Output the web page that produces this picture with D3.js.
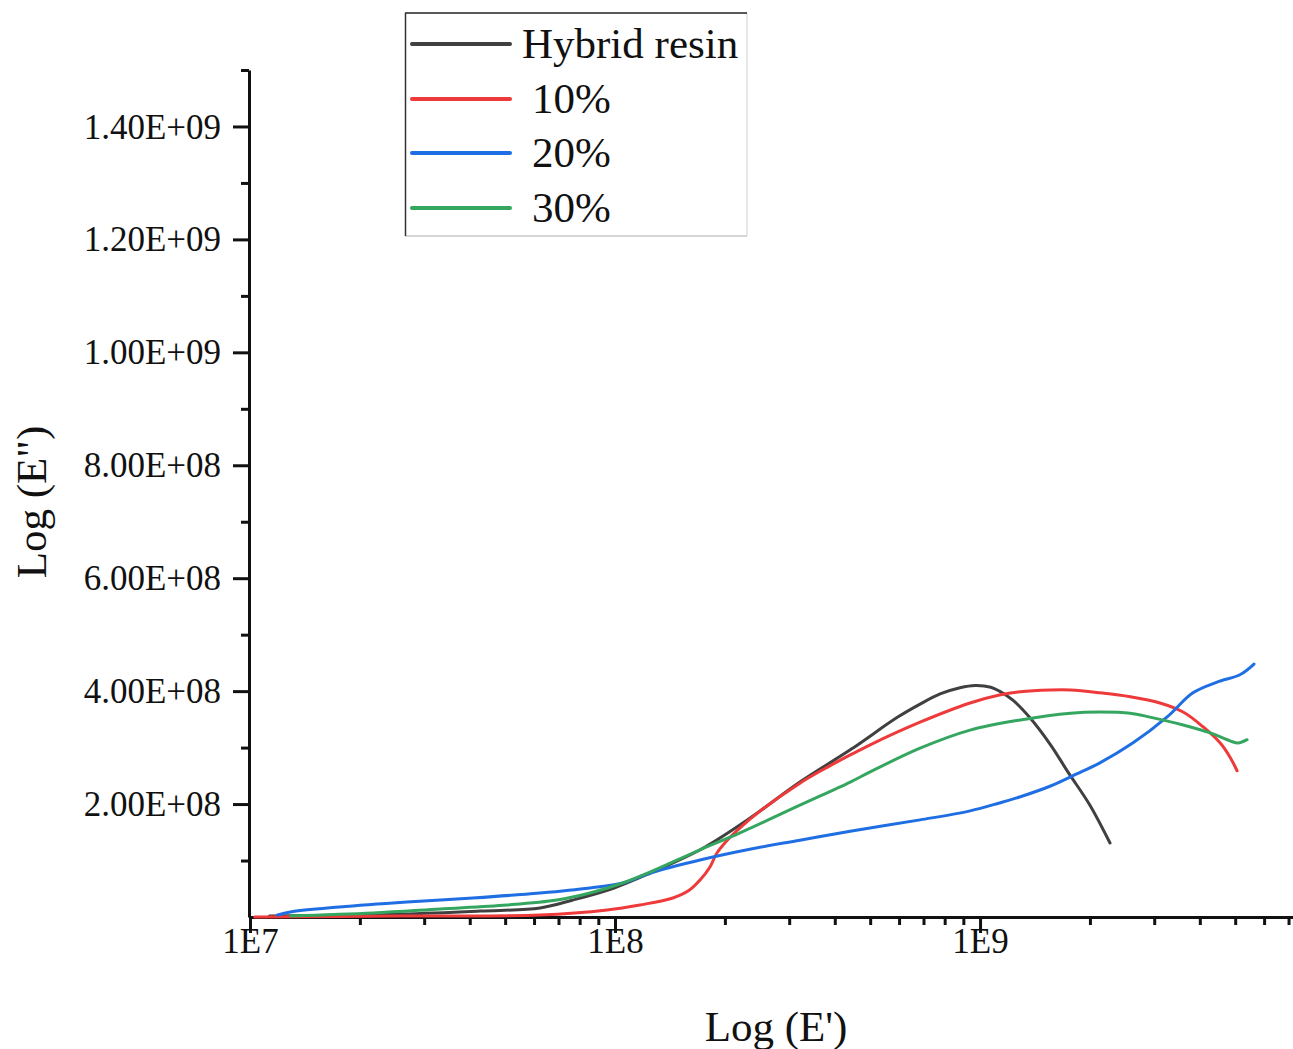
<!DOCTYPE html>
<meta charset="utf-8">
<title>Log (E'') vs Log (E')</title>
<style>
body { margin: 0; background: #fff; }
svg text { font-family: "Liberation Serif", "Times New Roman", serif; fill: #111; }
.curve { fill: none; stroke-width: 3px; stroke-linejoin: round; stroke-linecap: round; }
.axis path, .axis line { stroke: #111; stroke-width: 3px; }
</style>
<script src="https://d3js.org/d3.v7.min.js"></script>
<body>
<script>
// series: E' (x) and E'' (y)
var seriesNames = ["Hybrid resin", "10%", "20%", "30%"];
var seriesColors = ["#404040", "#ee3a3a", "#1f6ee3", "#35a660"];

var hybridX = [1.13e7, 2.58e7, 4.27e7, 6.23e7, 7.67e7, 9.94e7, 1.25e8, 1.71e8, 2.34e8, 3.21e8, 4.41e8, 5.95e8,
               6.85e8, 7.77e8, 8.81e8, 9.69e8, 1.07e9, 1.13e9, 1.23e9, 1.37e9, 1.56e9, 1.74e9, 2.00e9, 2.27e9];
var hybridY = [1.8e6, 5.3e6, 1.06e7, 1.59e7, 3.01e7, 5.14e7, 7.79e7, 1.19e8, 1.75e8, 2.39e8, 2.96e8, 3.54e8,
               3.77e8, 3.95e8, 4.06e8, 4.10e8, 4.07e8, 4.00e8, 3.84e8, 3.53e8, 3.05e8, 2.57e8, 1.98e8, 1.31e8];

var pct10X = [1.03e7, 2.58e7, 6.23e7, 9.51e7, 1.17e8, 1.44e8, 1.60e8, 1.71e8, 1.82e8, 1.90e8, 2.03e8, 2.20e8,
              2.50e8, 3.21e8, 3.76e8, 4.41e8, 5.00e8, 6.85e8, 9.39e8, 1.13e9, 1.29e9, 1.56e9, 1.77e9, 2.13e9,
              2.58e9, 3.11e9, 3.60e9, 4.08e9, 4.55e9, 4.84e9, 5.06e9];
var pct10Y = [0, 1.8e6, 3.5e6, 1.24e7, 2.13e7, 3.37e7, 4.78e7, 6.55e7, 8.86e7, 1.13e8, 1.36e8, 1.58e8,
              1.88e8, 2.37e8, 2.63e8, 2.87e8, 3.05e8, 3.45e8, 3.79e8, 3.93e8, 3.99e8, 4.02e8, 4.02e8, 3.97e8,
              3.90e8, 3.79e8, 3.63e8, 3.37e8, 3.08e8, 2.83e8, 2.59e8];

var pct20X = [1.19e7, 1.29e7, 1.76e7, 2.69e7, 4.08e7, 6.23e7, 8.54e7, 1.05e8, 1.25e8, 1.71e8, 2.34e8, 3.21e8,
              4.41e8, 6.85e8, 9.39e8, 1.13e9, 1.29e9, 1.56e9, 1.82e9, 2.13e9, 2.62e9, 3.25e9, 3.83e9, 4.46e9,
              5.15e9, 5.63e9];
var pct20Y = [3.5e6, 8.9e6, 1.77e7, 2.66e7, 3.37e7, 4.25e7, 5.14e7, 6.02e7, 7.79e7, 1.01e8, 1.20e8, 1.36e8,
              1.52e8, 1.72e8, 1.88e8, 2.02e8, 2.13e8, 2.32e8, 2.52e8, 2.73e8, 3.08e8, 3.54e8, 3.97e8, 4.16e8,
              4.29e8, 4.48e8];

var pct30X = [1.29e7, 2.17e7, 3.32e7, 5.06e7, 6.93e7, 8.54e7, 1.05e8, 1.25e8, 1.71e8, 2.20e8, 3.21e8, 4.41e8,
              5.00e8, 6.85e8, 9.39e8, 1.29e9, 1.77e9, 2.13e9, 2.58e9, 2.92e9, 3.60e9, 4.27e9, 4.84e9, 5.09e9, 5.39e9];
var pct30Y = [1.8e6, 7.1e6, 1.42e7, 2.13e7, 3.01e7, 4.25e7, 6.02e7, 7.97e7, 1.19e8, 1.49e8, 1.98e8, 2.39e8,
              2.57e8, 2.99e8, 3.31e8, 3.49e8, 3.61e8, 3.63e8, 3.61e8, 3.54e8, 3.40e8, 3.26e8, 3.12e8, 3.08e8, 3.14e8];

var xTicks = [1e7, 1e8, 1e9];
var xTickLabels = ["1E7", "1E8", "1E9"];
var yTicks = [2e8, 4e8, 6e8, 8e8, 1e9, 1.2e9, 1.4e9];
var yTickLabels = ["2.00E+08", "4.00E+08", "6.00E+08", "8.00E+08", "1.00E+09", "1.20E+09", "1.40E+09"];
var xLimits = [1e7, 7.2e9];
var yLimits = [0, 1.5e9];

var width = 1293;
var height = 1049;

var svg = d3.select("body").append("svg")
    .attr("width", width)
    .attr("height", height);

var x = d3.scaleLog().domain(xLimits).range([250, 1293]);
var y = d3.scaleLinear().domain(yLimits).range([917, 70]);

// minor ticks: 2..9 per decade on x, odd 1E8 steps on y
var xMinor = [];
[1e7, 1e8, 1e9].forEach(function(dec) {
  for (var k = 2; k <= 9; k++) if (dec * k <= xLimits[1]) xMinor.push(dec * k);
});
var yMinor = d3.range(1e8, 1.5e9 + 1, 2e8);

// x axis
svg.append("g")
    .attr("class", "axis")
    .attr("transform", "translate(0,917)")
    .call(d3.axisBottom(x).tickValues(xMinor).tickSize(8).tickSizeOuter(0).tickFormat(""));
var gx = svg.append("g")
    .attr("class", "axis")
    .attr("transform", "translate(0,917)")
    .call(d3.axisBottom(x).tickValues(xTicks).tickSize(16).tickSizeOuter(0)
      .tickFormat(function(d, i) { return xTickLabels[i]; }));
gx.selectAll("text")
    .attr("y", 36)
    .attr("dy", 0)
    .style("font-size", "35px")
    .style("font-family", "'Liberation Serif', serif")
    .attr("fill", "#111");

// y axis
svg.append("g")
    .attr("class", "axis")
    .attr("transform", "translate(249,0)")
    .call(d3.axisLeft(y).tickValues(yMinor).tickSize(8).tickSizeOuter(0).tickFormat(""));
var gy = svg.append("g")
    .attr("class", "axis")
    .attr("transform", "translate(249,0)")
    .call(d3.axisLeft(y).tickValues(yTicks).tickSize(16).tickSizeOuter(0)
      .tickFormat(function(d, i) { return yTickLabels[i]; }));
gy.select(".domain").remove();
gy.selectAll("text")
    .attr("x", -28)
    .attr("dy", "0.33em")
    .style("font-size", "35px")
    .style("font-family", "'Liberation Serif', serif")
    .attr("fill", "#111");

// axis titles
svg.append("text")
    .attr("x", 776)
    .attr("y", 1041)
    .attr("text-anchor", "middle")
    .style("font-size", "43px")
    .text("Log (E')");
svg.append("text")
    .attr("transform", "translate(46,502) rotate(-90)")
    .attr("text-anchor", "middle")
    .style("font-size", "43px")
    .text("Log (E\")");

// curves
var series = [
  d3.zip(hybridX, hybridY),
  d3.zip(pct10X, pct10Y),
  d3.zip(pct20X, pct20Y),
  d3.zip(pct30X, pct30Y)
];
var line = d3.line()
    .x(function(d) { return x(d[0]); })
    .y(function(d) { return y(d[1]); })
    .curve(d3.curveCatmullRom.alpha(0.5));

svg.append("g").selectAll("path")
    .data(series)
  .enter().append("path")
    .attr("class", "curve")
    .attr("d", line)
    .attr("stroke", function(d, i) { return seriesColors[i]; });

// legend
var lg = svg.append("g");
lg.append("rect")
    .attr("x", 405).attr("y", 13)
    .attr("width", 342).attr("height", 223)
    .attr("fill", "#fff");
lg.append("line").attr("x1", 747).attr("y1", 13).attr("x2", 747).attr("y2", 236)
    .attr("stroke", "#d0d0d0").attr("stroke-width", 1);
lg.append("line").attr("x1", 405).attr("y1", 236).attr("x2", 747).attr("y2", 236)
    .attr("stroke", "#c8c8c8").attr("stroke-width", 1.5);
lg.append("line").attr("x1", 405).attr("y1", 13).attr("x2", 747).attr("y2", 13)
    .attr("stroke", "#222").attr("stroke-width", 1.5);
lg.append("line").attr("x1", 405.5).attr("y1", 13).attr("x2", 405.5).attr("y2", 236)
    .attr("stroke", "#333").attr("stroke-width", 1.5);

var rowY = [44, 99, 153, 208];
var item = lg.selectAll(".item")
    .data(seriesNames)
  .enter().append("g")
    .attr("class", "item")
    .attr("transform", function(d, i) { return "translate(0," + rowY[i] + ")"; });
item.append("line")
    .attr("x1", 412).attr("x2", 510)
    .attr("stroke", function(d, i) { return seriesColors[i]; })
    .attr("stroke-width", 4)
    .attr("stroke-linecap", "round");
item.append("text")
    .attr("x", function(d, i) { return i === 0 ? 522 : 532; })
    .attr("y", 14)
    .style("font-size", "43px")
    .text(function(d) { return d; });
</script>
